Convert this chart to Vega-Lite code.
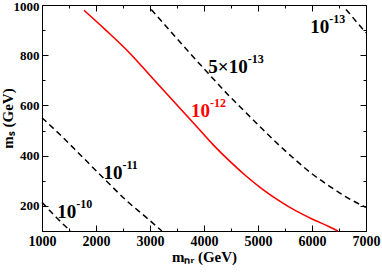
{
  "$schema": "https://vega.github.io/schema/vega-lite/v6.json",
  "width": 324,
  "height": 226,
  "autosize": "none",
  "padding": {"left": 42, "top": 5, "right": 16, "bottom": 41},
  "datasets": {
    "curves": [
      {"s": "1e-12", "i": 1, "x": 1777, "y": 979},
      {"s": "1e-12", "i": 2, "x": 2191, "y": 898},
      {"s": "1e-12", "i": 3, "x": 2622, "y": 809},
      {"s": "1e-12", "i": 4, "x": 3052, "y": 707},
      {"s": "1e-12", "i": 5, "x": 3546, "y": 591},
      {"s": "1e-12", "i": 6, "x": 3855, "y": 518},
      {"s": "1e-12", "i": 7, "x": 4162, "y": 445},
      {"s": "1e-12", "i": 8, "x": 4471, "y": 379},
      {"s": "1e-12", "i": 9, "x": 4779, "y": 319},
      {"s": "1e-12", "i": 10, "x": 5086, "y": 266},
      {"s": "1e-12", "i": 11, "x": 5395, "y": 220},
      {"s": "1e-12", "i": 12, "x": 5704, "y": 180},
      {"s": "1e-12", "i": 13, "x": 6011, "y": 147},
      {"s": "1e-12", "i": 14, "x": 6320, "y": 117},
      {"s": "1e-12", "i": 15, "x": 6480, "y": 100},
      {"s": "5e-13", "i": 1, "x": 3023, "y": 982},
      {"s": "5e-13", "i": 2, "x": 4069, "y": 730},
      {"s": "5e-13", "i": 3, "x": 4471, "y": 637},
      {"s": "5e-13", "i": 4, "x": 4779, "y": 571},
      {"s": "5e-13", "i": 5, "x": 5086, "y": 505},
      {"s": "5e-13", "i": 6, "x": 5395, "y": 441},
      {"s": "5e-13", "i": 7, "x": 5704, "y": 381},
      {"s": "5e-13", "i": 8, "x": 6011, "y": 326},
      {"s": "5e-13", "i": 9, "x": 6320, "y": 279},
      {"s": "5e-13", "i": 10, "x": 6628, "y": 236},
      {"s": "5e-13", "i": 11, "x": 6998, "y": 194},
      {"s": "1e-13", "i": 1, "x": 6630, "y": 982},
      {"s": "1e-13", "i": 2, "x": 7000, "y": 889},
      {"s": "1e-11", "i": 1, "x": 1000, "y": 551},
      {"s": "1e-11", "i": 2, "x": 1327, "y": 485},
      {"s": "1e-11", "i": 3, "x": 1697, "y": 406},
      {"s": "1e-11", "i": 4, "x": 2128, "y": 313},
      {"s": "1e-11", "i": 5, "x": 2561, "y": 222},
      {"s": "1e-11", "i": 6, "x": 2930, "y": 154},
      {"s": "1e-11", "i": 7, "x": 3220, "y": 100},
      {"s": "1e-10", "i": 1, "x": 1000, "y": 214},
      {"s": "1e-10", "i": 2, "x": 1266, "y": 154},
      {"s": "1e-10", "i": 3, "x": 1525, "y": 100}
    ],
    "labels": [
      {"base": "10", "sup": "-13", "x": 6320, "y": 913, "c": "black"},
      {"base": "5×10", "sup": "-13", "x": 4809, "y": 753, "c": "black"},
      {"base": "10", "sup": "-12", "x": 4110, "y": 578, "c": "red"},
      {"base": "10", "sup": "-11", "x": 2490, "y": 330, "c": "black"},
      {"base": "10", "sup": "-10", "x": 1636, "y": 177, "c": "black"}
    ]
  },
  "resolve": {"axis": {"x": "independent", "y": "independent"}},
  "layer": [
    {
      "data": {"name": "curves"},
      "transform": [{"filter": "datum.s == '1e-12'"}],
      "mark": {"type": "line", "color": "#ff0000", "strokeWidth": 1.6, "interpolate": "monotone"},
      "encoding": {
        "x": {"field": "x", "type": "quantitative",
          "scale": {"domain": [1000, 7000], "nice": false, "zero": false},
          "axis": {"orient": "bottom", "values": [1000,1500,2000,2500,3000,3500,4000,4500,5000,5500,6000,6500,7000],
            "format": "d", "labelExpr": "datum.value % 1000 == 0 ? datum.label : ''",
            "tickSize": {"condition": {"test": "datum.value % 1000 == 0", "value": -6}, "value": -3},
            "labelPadding": 9, "labelFlush": false, "labelOverlap": false,
            "title": "mₙᵣ (GeV)", "titlePadding": -2}},
        "y": {"field": "y", "type": "quantitative",
          "scale": {"domain": [100, 1000], "nice": false, "zero": false},
          "axis": {"orient": "left", "values": [100,200,300,400,500,600,700,800,900,1000],
            "format": "d", "labelExpr": "datum.value % 200 == 0 ? datum.label : ''",
            "tickSize": {"condition": {"test": "datum.value % 200 == 0", "value": -6}, "value": -3},
            "labelOffset": {"condition": {"test": "datum.value == 1000", "value": 1.5}, "value": 0},
            "labelPadding": 9, "labelFlush": false, "labelOverlap": false, "labelFontSize": 13,
            "title": "mₛ (GeV)", "titlePadding": -2}},
        "order": {"field": "i", "type": "quantitative"}
      }
    },
    {
      "data": {"name": "curves"},
      "transform": [{"filter": "datum.s != '1e-12'"}],
      "mark": {"type": "line", "color": "black", "strokeWidth": 1.5, "strokeDash": [6, 4], "interpolate": "monotone"},
      "encoding": {
        "x": {"field": "x", "type": "quantitative",
          "axis": {"orient": "top", "values": [1000,1500,2000,2500,3000,3500,4000,4500,5000,5500,6000,6500,7000],
            "labels": false, "title": null,
            "tickSize": {"condition": {"test": "datum.value % 1000 == 0", "value": -6}, "value": -3}}},
        "y": {"field": "y", "type": "quantitative",
          "axis": {"orient": "right", "values": [100,200,300,400,500,600,700,800,900,1000],
            "labels": false, "title": null,
            "tickSize": {"condition": {"test": "datum.value % 200 == 0", "value": -6}, "value": -3}}},
        "detail": {"field": "s"},
        "order": {"field": "i", "type": "quantitative"}
      }
    },
    {
      "data": {"name": "labels"},
      "mark": {"type": "text", "align": "right", "baseline": "middle", "font": "Liberation Serif", "fontWeight": "bold", "fontSize": 19},
      "encoding": {
        "x": {"field": "x", "type": "quantitative", "axis": null},
        "y": {"field": "y", "type": "quantitative", "axis": null},
        "text": {"field": "base"},
        "color": {"field": "c", "type": "nominal", "scale": null}
      }
    },
    {
      "data": {"name": "labels"},
      "mark": {"type": "text", "align": "left", "baseline": "middle", "dy": -8, "font": "Liberation Serif", "fontWeight": "bold", "fontSize": 12},
      "encoding": {
        "x": {"field": "x", "type": "quantitative", "axis": null},
        "y": {"field": "y", "type": "quantitative", "axis": null},
        "text": {"field": "sup"},
        "color": {"field": "c", "type": "nominal", "scale": null}
      }
    }
  ],
  "config": {
    "view": {"stroke": null},
    "axis": {
      "grid": false,
      "domainColor": "black",
      "domainWidth": 1,
      "tickColor": "black",
      "tickWidth": 1,
      "labelFont": "Liberation Serif",
      "labelFontWeight": "bold",
      "labelFontSize": 14,
      "labelColor": "black",
      "titleFont": "Liberation Serif",
      "titleFontWeight": "bold",
      "titleFontSize": 15,
      "titleColor": "black"
    }
  }
}
